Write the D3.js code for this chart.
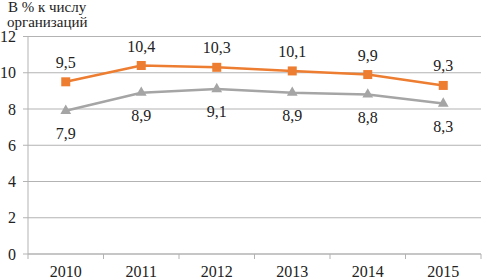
<!DOCTYPE html>
<html>
<head>
<meta charset="utf-8">
<script src="https://cdn.jsdelivr.net/npm/d3@7"></script>
<style>
  body { margin: 0; background: #fff; }
</style>
</head>
<body>
<div id="chart"></div>
<script>
// data
const years = ["2010", "2011", "2012", "2013", "2014", "2015"];
const seriesTop = [9.5, 10.4, 10.3, 10.1, 9.9, 9.3];
const seriesBottom = [7.9, 8.9, 9.1, 8.9, 8.8, 8.3];
const yTicks = [0, 2, 4, 6, 8, 10, 12];

const FONT = "'Liberation Serif'";

var svg = d3.select("#chart").append("svg")
    .attr("width", 482)
    .attr("height", 279);

var plotLeft = 28, plotRight = 481, plotTop = 36.5, plotBottom = 254;

var x = d3.scaleBand()
    .domain(years)
    .range([plotLeft, plotRight]);

var y = d3.scaleLinear()
    .domain([0, 12])
    .range([plotBottom, plotTop]);

//gridlines
svg.append("g")
    .selectAll("line")
    .data(yTicks)
    .enter()
    .append("line")
        .attr("x1", plotLeft - 5)
        .attr("x2", plotRight)
        .attr("y1", d => y(d))
        .attr("y2", d => y(d))
        .attr("stroke", "#b3b3b3")
        .attr("stroke-width", 1);

//y axis labels
svg.append("g")
    .selectAll("text")
    .data(yTicks)
    .enter()
    .append("text")
        .attr("x", 16)
        .attr("y", d => y(d))
        .attr("dy", "0.35em")
        .attr("text-anchor", "end")
        .style("font-family", FONT)
        .style("font-size", "16px")
        .style("fill", "#222")
        .text(d => d);

//y axis line
svg.append("line")
    .attr("x1", plotLeft).attr("x2", plotLeft)
    .attr("y1", plotTop).attr("y2", plotBottom)
    .attr("stroke", "#b3b3b3");

//x axis
var xAxis = svg.append("g")
    .attr("transform", "translate(0," + plotBottom + ")");
xAxis.append("line")
    .attr("x1", plotLeft).attr("x2", plotRight)
    .attr("stroke", "#b3b3b3");
xAxis.selectAll(".tk")
    .data(years.map(d => x(d)).concat([plotRight]))
    .enter()
    .append("line")
        .attr("x1", d => d).attr("x2", d => d)
        .attr("y1", 0).attr("y2", 5)
        .attr("stroke", "#b3b3b3");
xAxis.selectAll("text")
    .data(years)
    .enter()
    .append("text")
        .attr("x", d => x(d) + x.bandwidth() / 2)
        .attr("y", 23)
        .attr("text-anchor", "middle")
        .style("font-family", FONT)
        .style("font-size", "16px")
        .style("fill", "#222")
        .text(d => d);

//axis title
svg.append("text")
    .attr("x", 8).attr("y", 12)
    .style("font-family", FONT)
    .style("font-size", "15px")
    .style("fill", "#222")
    .text("В % к числу");
svg.append("text")
    .attr("x", 7).attr("y", 27)
    .style("font-family", FONT)
    .style("font-size", "15px")
    .style("fill", "#222")
    .text("организаций");

var cx = function(i) { return x(years[i]) + x.bandwidth() / 2; };
var line = d3.line()
    .x((d, i) => cx(i))
    .y(d => y(d));

//bottom series (grey, triangles)
svg.append("path")
    .datum(seriesBottom)
    .attr("d", line)
    .attr("fill", "none")
    .attr("stroke", "#a5a5a5")
    .attr("stroke-width", 2.5);
svg.append("g")
    .selectAll("path")
    .data(seriesBottom)
    .enter()
    .append("path")
        .attr("d", d3.symbol().type(d3.symbolTriangle).size(50))
        .attr("transform", (d, i) => "translate(" + cx(i) + "," + y(d) + ")")
        .attr("fill", "#a5a5a5");
svg.append("g")
    .selectAll("text")
    .data(seriesBottom)
    .enter()
    .append("text")
        .attr("x", (d, i) => cx(i))
        .attr("y", d => y(d) + 28)
        .attr("text-anchor", "middle")
        .style("font-family", FONT)
        .style("font-size", "16px")
        .style("fill", "#222")
        .text(d => d.toFixed(1).replace(".", ","));

//top series (orange, squares)
svg.append("path")
    .datum(seriesTop)
    .attr("d", line)
    .attr("fill", "none")
    .attr("stroke", "#ed7d31")
    .attr("stroke-width", 2.5);
svg.append("g")
    .selectAll("rect")
    .data(seriesTop)
    .enter()
    .append("rect")
        .attr("x", (d, i) => cx(i) - 4.5)
        .attr("y", d => y(d) - 4.5)
        .attr("width", 9)
        .attr("height", 9)
        .attr("fill", "#ed7d31");
svg.append("g")
    .selectAll("text")
    .data(seriesTop)
    .enter()
    .append("text")
        .attr("x", (d, i) => cx(i))
        .attr("y", d => y(d) - 14)
        .attr("text-anchor", "middle")
        .style("font-family", FONT)
        .style("font-size", "16px")
        .style("fill", "#222")
        .text(d => d.toFixed(1).replace(".", ","));
</script>
</body>
</html>
